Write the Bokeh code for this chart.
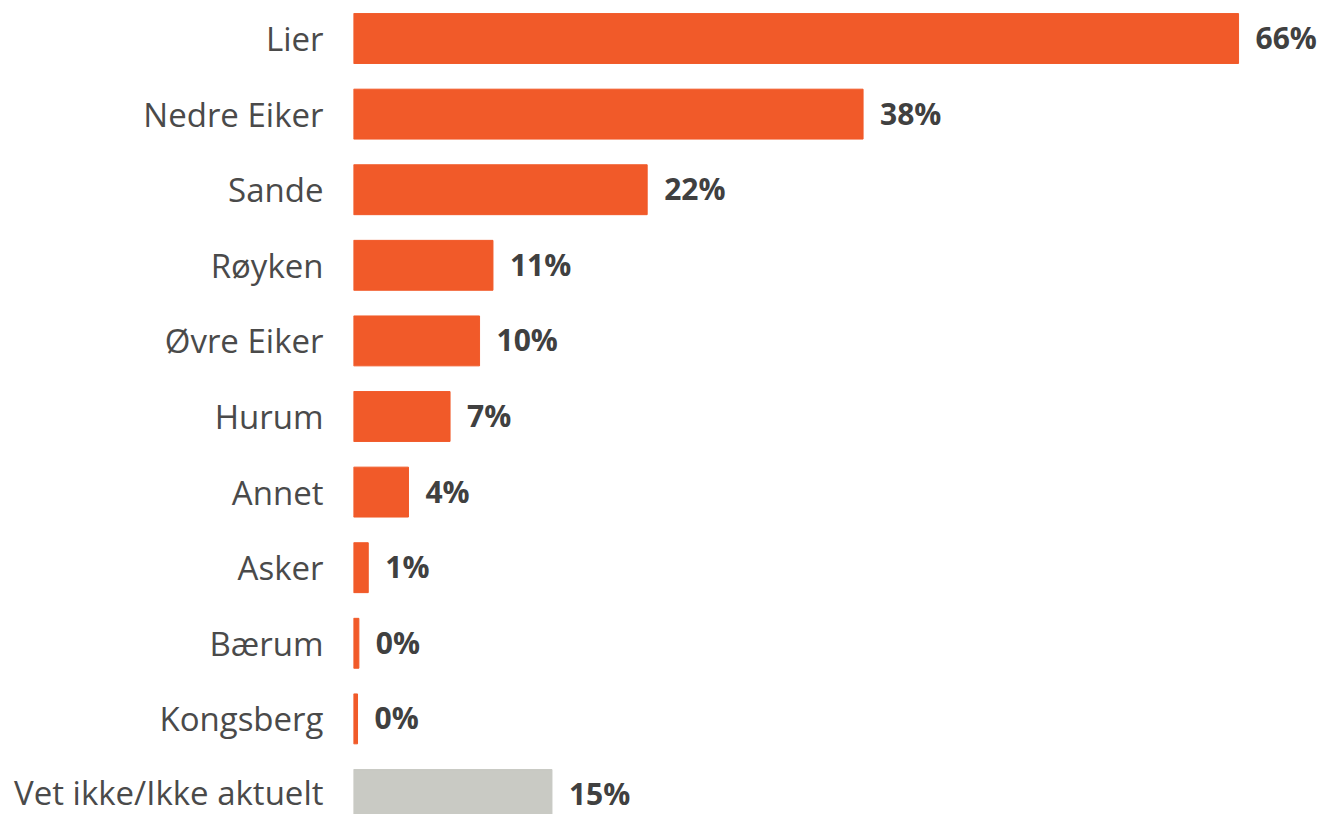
from bokeh.plotting import figure
from bokeh.models import ColumnDataSource, Range1d, FixedTicker, LabelSet
from bokeh.embed import file_html
from bokeh.resources import INLINE
from bokeh.core.properties import value

categories = ["Lier", "Nedre Eiker", "Sande", "Røyken", "Øvre Eiker", "Hurum",
              "Annet", "Asker", "Bærum", "Kongsberg", "Vet ikke/Ikke aktuelt"]
values = [66.0, 38.0, 21.9, 10.4, 9.4, 7.2, 4.1, 1.1, 0.4, 0.3, 14.8]
labels = ["66%", "38%", "22%", "11%", "10%", "7%", "4%", "1%", "0%", "0%", "15%"]
colors = ["#F15A29"] * 10 + ["#C9CAC4"]

pos = list(range(len(categories)))
src = ColumnDataSource(dict(y=pos, v=values, lab=labels, c=colors))

p = figure(width=1322, height=814, output_backend="svg", toolbar_location=None,
           x_range=Range1d(0, 72.26), y_range=Range1d(10.265, -0.503),
           min_border_left=353, min_border_right=0, min_border_top=0, min_border_bottom=0)
p.hbar(y="y", left=0, right="v", height=0.66, color="c", source=src)

p.add_layout(LabelSet(x="v", y="y", text="lab", source=src, x_offset=17, y_offset=1,
                      text_baseline="middle", text_font=value("Open Sans"),
                      text_font_style="bold", text_font_size="30px",
                      text_color="#404040"))

p.xaxis.visible = False
p.xgrid.visible = False
p.ygrid.visible = False
p.outline_line_color = None
ax = p.yaxis[0]
ax.ticker = FixedTicker(ticks=pos)
ax.major_label_overrides = {i: c for i, c in enumerate(categories)}
ax.axis_line_color = None
ax.major_tick_line_color = None
ax.minor_tick_line_color = None
ax.major_label_standoff = 24
ax.major_label_text_font = "Open Sans"
ax.major_label_text_font_size = "33px"
ax.major_label_text_color = "#4A4A4A"

open("out.html", "w").write(file_html(p, INLINE))
